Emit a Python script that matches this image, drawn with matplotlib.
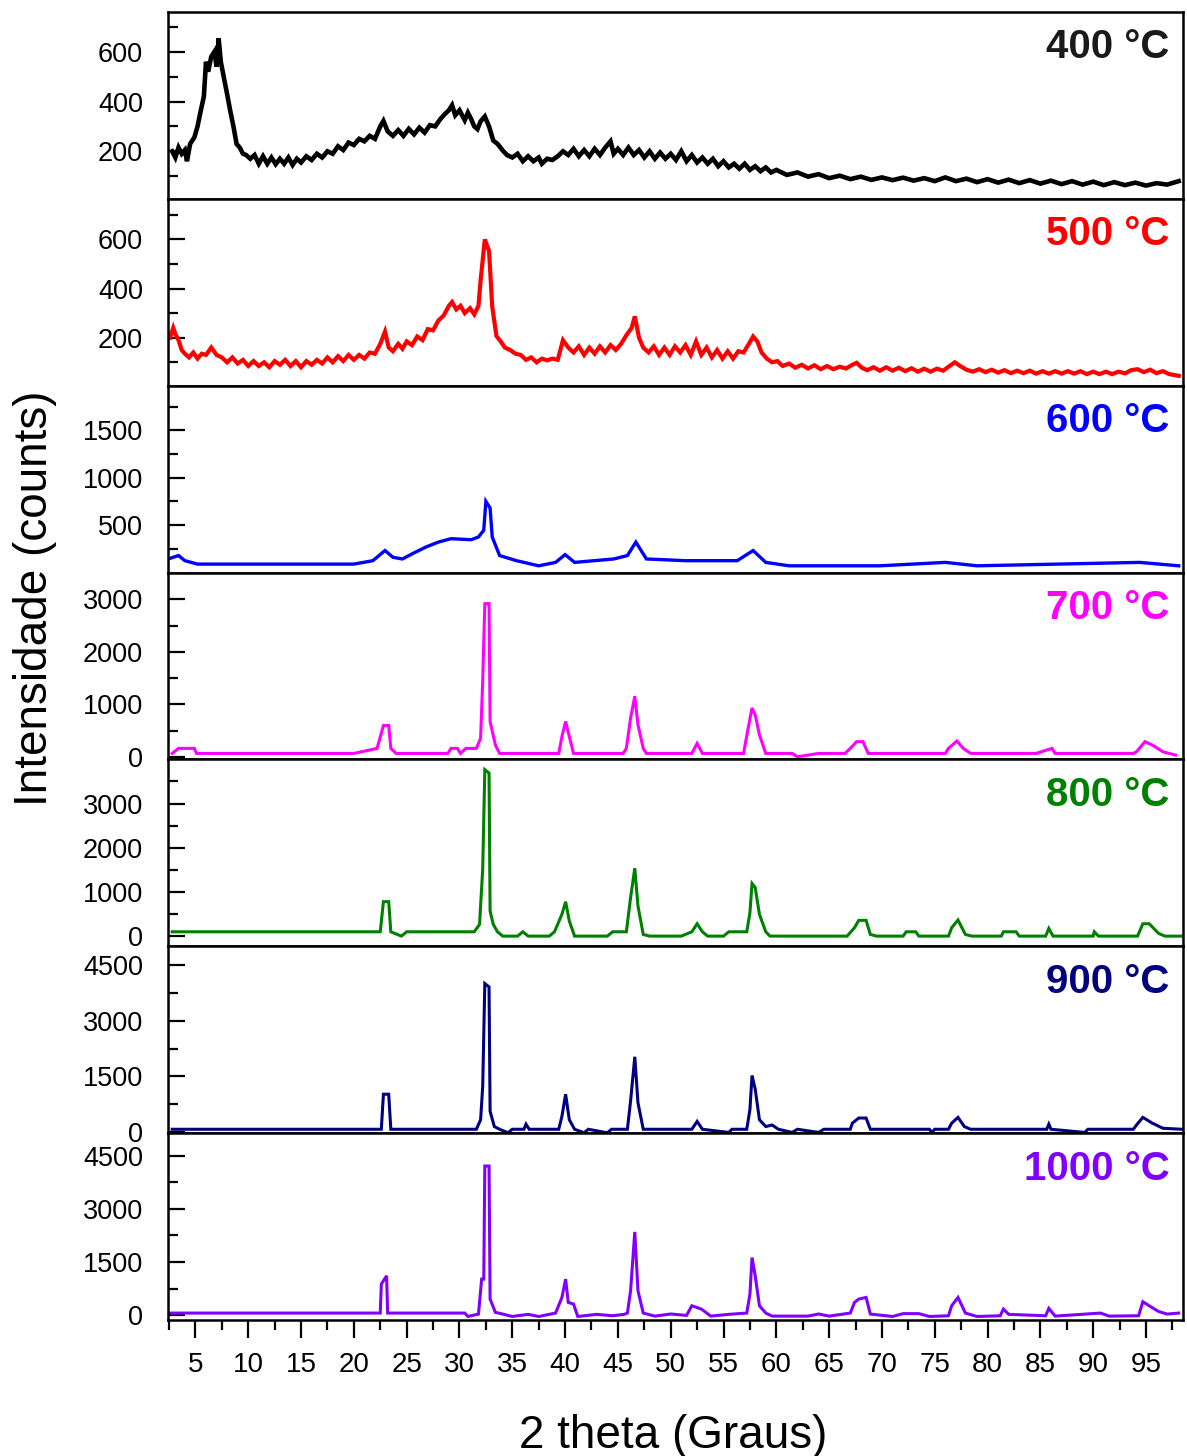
import matplotlib
matplotlib.use("Agg")
import matplotlib.pyplot as plt
from matplotlib.ticker import FixedLocator

plt.rcParams['font.family'] = ['Liberation Sans', 'DejaVu Sans']

# 2 theta / intensity readings per calcination temperature
tt_400 = [2.8, 3.1, 3.4, 3.7, 4.0, 4.2, 4.5, 4.9, 5.2, 5.5, 5.8, 6.0, 6.2, 6.5, 6.8, 7.0, 7.2, 7.4,
          7.7, 8.0, 8.3, 8.6, 8.9, 9.2, 9.5, 9.8, 10.2, 10.6, 11.0, 11.4, 11.8, 12.2, 12.6, 13.0,
          13.4, 13.8, 14.2, 14.6, 15.0, 15.5, 16.0, 16.5, 17.0, 17.5, 18.0, 18.5, 19.0, 19.5, 20.0,
          20.5, 21.0, 21.5, 22.0, 22.5, 22.8, 23.2, 23.7, 24.2, 24.7, 25.2, 25.7, 26.2, 26.7, 27.2,
          27.7, 28.2, 28.6, 29.0, 29.3, 29.6, 30.0, 30.5, 30.8, 31.1, 31.4, 31.7, 32.0, 32.4, 32.8,
          33.2, 33.6, 34.1, 34.5, 35.0, 35.5, 36.0, 36.5, 37.0, 37.5, 37.8, 38.3, 38.8, 39.3, 39.8,
          40.3, 40.8, 41.3, 41.8, 42.3, 42.8, 43.3, 43.8, 44.3, 44.6, 45.0, 45.5, 46.0, 46.5, 47.0,
          47.5, 48.0, 48.5, 49.0, 49.5, 50.0, 50.5, 51.0, 51.5, 52.0, 52.5, 53.0, 53.5, 54.0, 54.5,
          55.0, 55.5, 56.0, 56.5, 57.0, 57.5, 58.0, 58.5, 59.0, 59.5, 60.0, 61.0, 62.0, 63.0, 64.0,
          65.0, 66.0, 67.0, 68.0, 69.0, 70.0, 71.0, 72.0, 73.0, 74.0, 75.0, 76.0, 77.0, 78.0, 79.0,
          80.0, 81.0, 82.0, 83.0, 84.0, 85.0, 86.0, 87.0, 88.0, 89.0, 90.0, 91.0, 92.0, 93.0, 94.0,
          95.0, 96.0, 97.0, 98.1]
I_400 = [200, 175, 215, 190, 205, 160, 230, 256, 300, 362, 420, 560, 520, 580, 600, 540, 654, 560,
         495, 430, 362, 300, 229, 215, 190, 185, 170, 185, 150, 180, 150, 175, 148, 170,
         150, 175, 145, 170, 155, 180, 165, 190, 175, 200, 190, 220, 205, 235, 225,
         250, 240, 262, 250, 300, 322, 280, 262, 285, 262, 290, 268, 295, 275, 305,
         300, 330, 349, 365, 385, 345, 365, 325, 355, 330, 300, 289, 320, 340, 300,
         243, 230, 203, 185, 175, 190, 160, 180, 160, 175, 150, 170, 165, 180, 200,
         185, 210, 180, 205, 180, 210, 185, 215, 240, 190, 210, 185, 215, 185, 205,
         175, 200, 170, 195, 170, 190, 165, 200, 160, 185, 155, 175, 150, 170, 140,
         160, 135, 150, 130, 150, 125, 140, 120, 135, 115, 125, 105, 115, 98, 108,
         92, 102, 88, 98, 85, 95, 84, 94, 82, 92, 80, 95, 80, 90, 76,
         88, 74, 86, 72, 84, 70, 82, 68, 80, 66, 78, 64, 76, 64, 74,
         62, 72, 66, 80]

tt_500 = [2.6, 2.9, 3.1, 3.4, 3.7, 4.0, 4.4, 4.8, 5.2, 5.6, 6.0, 6.5, 7.0, 7.5, 8.0, 8.5, 9.0, 9.5,
          10.0, 10.5, 11.0, 11.5, 12.0, 12.5, 13.0, 13.5, 14.0, 14.5, 15.0, 15.5, 16.0, 16.5, 17.0,
          17.5, 18.0, 18.5, 19.0, 19.5, 20.0, 20.5, 21.0, 21.5, 22.0, 22.5, 22.95, 23.3, 23.7, 24.2,
          24.6, 25.0, 25.5, 26.0, 26.5, 27.0, 27.5, 28.0, 28.5, 29.0, 29.3, 29.7, 30.1, 30.5, 31.0,
          31.4, 31.8, 32.0, 32.4, 32.8, 33.1, 33.5, 33.9, 34.3, 34.8, 35.3, 35.8, 36.3, 36.8, 37.3,
          37.8, 38.3, 38.8, 39.3, 39.8, 40.3, 40.8, 41.3, 41.8, 42.3, 42.8, 43.3, 43.8, 44.3, 44.8,
          45.3, 45.8, 46.3, 46.6, 47.0, 47.4, 47.9, 48.4, 48.9, 49.4, 49.9, 50.4, 50.9, 51.4, 51.9,
          52.4, 52.9, 53.4, 53.9, 54.4, 54.9, 55.4, 55.9, 56.4, 56.9, 57.4, 57.8, 58.2, 58.6, 59.1,
          59.6, 60.1, 60.6, 61.2, 61.8, 62.4, 63.0, 63.6, 64.2, 64.8, 65.4, 66.0, 66.6, 67.2, 67.6,
          68.1, 68.6, 69.2, 69.8, 70.4, 71.0, 71.6, 72.2, 72.8, 73.4, 74.0, 74.6, 75.2, 75.8, 76.4,
          76.9, 77.4, 78.0, 78.6, 79.2, 79.8, 80.4, 81.0, 81.6, 82.2, 82.8, 83.4, 84.0, 84.6, 85.2,
          85.8, 86.4, 87.0, 87.6, 88.2, 88.8, 89.4, 90.0, 90.6, 91.2, 91.8, 92.4, 93.0, 93.6, 94.2,
          94.8, 95.4, 96.0, 96.6, 97.2, 98.1]
I_500 = [200, 240, 215, 190, 150, 135, 120, 140, 115, 135, 130, 160, 130, 120, 100, 120, 95, 110,
         85, 105, 85, 100, 80, 105, 90, 110, 85, 105, 80, 105, 90, 110, 95,
         120, 100, 125, 105, 130, 110, 130, 115, 140, 135, 175, 225, 160, 145, 175,
         155, 185, 170, 205, 190, 235, 230, 270, 290, 330, 345, 315, 330, 300, 320,
         295, 330, 433, 600, 553, 327, 207, 185, 160, 150, 135, 130, 110, 120, 100,
         115, 108, 115, 110, 190, 160, 140, 165, 130, 160, 135, 165, 140, 170, 150,
         175, 210, 240, 287, 200, 160, 140, 165, 130, 160, 130, 165, 140, 170, 130,
         185, 130, 160, 120, 150, 115, 145, 115, 145, 140, 175, 205, 185, 140, 115,
         100, 105, 85, 95, 78, 90, 75, 88, 72, 85, 72, 82, 75, 90, 98,
         78, 68, 80, 66, 80, 66, 78, 64, 76, 62, 74, 62, 74, 66, 85,
         100, 85, 70, 62, 72, 60, 70, 58, 68, 56, 66, 56, 66, 54, 64,
         54, 64, 54, 64, 54, 64, 52, 62, 52, 62, 52, 62, 55, 68, 72,
         60, 70, 56, 64, 52, 45]

tt_600 = [2.6, 3.4, 4.0, 5.2, 10.0, 15.0, 20.0, 21.8, 22.95, 23.7, 24.6, 25.5, 26.8, 28.0, 29.2,
          31.1, 31.8, 32.3, 32.5, 32.9, 33.1, 33.8, 35.4, 37.5, 39.1, 40.0, 40.9, 44.6, 45.9, 46.7,
          47.7, 51.4, 56.3, 57.8, 59.0, 61.2, 69.8, 76.0, 79.0, 94.4, 98.1]
I_600 = [150, 179, 125, 89, 89, 89, 89, 125, 232, 161, 143, 196, 268, 321, 357,
         346, 375, 446, 750, 679, 375, 179, 125, 71, 107, 189, 107, 143, 179, 321,
         143, 125, 125, 232, 107, 71, 71, 107, 71, 107, 71]

tt_700 = [2.8, 3.4, 4.9, 5.1, 20.0, 22.2, 22.8, 23.3, 23.5, 24.0, 28.9, 29.2, 29.8, 30.1, 30.6,
          31.6, 32.0, 32.2, 32.4, 32.8, 32.9, 33.4, 33.8, 39.4, 39.7, 40.05, 40.4, 40.8, 45.5, 45.8,
          46.2, 46.6, 46.9, 47.4, 47.7, 52.0, 52.5, 53.0, 56.9, 57.3, 57.7, 58.0, 58.4, 59.0, 61.5,
          62.0, 64.0, 66.5, 67.0, 67.6, 68.2, 68.7, 72.0, 76.0, 76.3, 77.1, 77.7, 78.4, 84.6, 86.1,
          86.4, 93.8, 94.1, 94.9, 95.6, 96.6, 97.8]
I_700 = [64, 160, 160, 64, 64, 160, 596, 596, 160, 64, 64, 160, 160, 64, 160,
         160, 353, 1442, 2917, 2917, 673, 224, 64, 64, 385, 673, 385, 64, 64, 160,
         737, 1154, 609, 160, 64, 64, 256, 64, 64, 513, 929, 801, 417, 64, 64,
         0, 64, 64, 160, 288, 288, 64, 64, 64, 160, 301, 160, 64, 64, 160,
         64, 64, 96, 288, 224, 96, 32]

tt_800 = [2.8, 22.5, 22.8, 23.3, 23.5, 24.5, 25.0, 31.4, 31.9, 32.2, 32.4, 32.8, 32.9, 33.2, 33.6,
          34.1, 35.5, 36.0, 36.5, 38.5, 39.0, 39.7, 40.05, 40.4, 40.9, 44.0, 44.5, 45.8, 46.2, 46.6,
          46.9, 47.4, 48.0, 51.0, 52.0, 52.5, 53.0, 53.5, 55.0, 55.5, 57.2, 57.5, 57.7, 58.0, 58.4,
          59.0, 59.4, 66.7, 67.4, 67.8, 68.5, 68.9, 69.5, 72.0, 72.3, 73.2, 73.5, 76.3, 76.6, 77.2,
          77.9, 78.5, 81.3, 81.5, 82.7, 83.0, 85.5, 85.8, 86.2, 90.0, 90.1, 90.5, 94.2, 94.7, 95.3,
          96.2, 96.8, 98.4]
I_800 = [98, 98, 780, 780, 98, 0, 98, 98, 265, 1516, 3767, 3690, 568, 265, 98,
         0, 0, 98, 0, 0, 98, 493, 780, 341, 0, 0, 98, 98, 871, 1538,
         682, 38, 0, 0, 98, 280, 98, 0, 0, 98, 98, 530, 1190, 1099, 493,
         98, 0, 0, 190, 356, 356, 38, 0, 0, 98, 98, 0, 0, 190, 364,
         38, 0, 0, 98, 98, 0, 0, 174, 0, 0, 98, 0, 0, 280, 280,
         60, 0, 0]

tt_900 = [2.8, 22.6, 22.8, 23.3, 23.5, 31.6, 32.0, 32.2, 32.4, 32.8, 32.9, 33.3, 33.8, 34.6, 35.0,
          36.1, 36.3, 36.6, 39.4, 39.7, 40.05, 40.4, 40.9, 41.8, 42.2, 44.0, 44.4, 45.9, 46.2, 46.6,
          46.9, 47.4, 52.0, 52.5, 53.0, 55.5, 55.8, 57.2, 57.5, 57.7, 58.0, 58.4, 59.0, 59.6, 60.2,
          61.5, 62.0, 64.0, 64.5, 67.0, 67.2, 67.8, 68.5, 68.9, 74.5, 74.7, 75.0, 76.3, 76.6, 77.2,
          77.8, 78.4, 85.6, 85.8, 86.0, 89.2, 89.5, 93.8, 94.1, 94.7, 95.6, 96.6, 98.4]
I_900 = [65, 65, 1014, 1014, 65, 65, 323, 1217, 4011, 3919, 553, 138, 65, -30, 65,
         65, 203, 65, 65, 415, 1014, 323, 65, -30, 65, -30, 65, 65, 830, 2028,
         784, 65, 65, 277, 65, -20, 65, 65, 599, 1521, 1153, 323, 138, 180, 65,
         -20, 65, -20, 65, 65, 230, 369, 369, 65, 65, -20, 65, 65, 230, 387,
         138, 65, 65, 203, 65, -20, 65, 65, 180, 387, 230, 92, 65]

tt_1000 = [2.6, 22.5, 22.6, 23.1, 23.2, 30.5, 30.8, 31.8, 32.1, 32.3, 32.4, 32.8, 32.9, 33.4, 34.1,
           35.0, 36.5, 37.5, 39.1, 39.7, 40.05, 40.3, 40.8, 41.2, 43.0, 44.5, 45.6, 45.9, 46.2, 46.6,
           46.9, 47.4, 48.5, 50.0, 51.5, 52.0, 52.9, 53.8, 55.5, 57.2, 57.5, 57.7, 58.0, 58.4, 59.0,
           59.6, 63.0, 64.0, 65.0, 67.0, 67.4, 67.8, 68.5, 68.9, 71.0, 72.0, 73.5, 74.5, 76.3, 76.6,
           77.2, 77.9, 79.0, 81.2, 81.5, 82.0, 85.5, 85.8, 86.4, 90.7, 91.5, 94.3, 94.7, 95.3, 96.2,
           97.0, 98.1]
I_1000 = [56, 56, 874, 1109, 56, 56, -40, 28, 1015, 1015, 4211, 4211, 451, 75, 28,
          -40, 20, -40, 56, 498, 1015, 357, 310, -40, 20, -20, 20, 56, 686, 2350,
          686, 56, -30, 30, -10, 263, 169, -30, 20, 56, 592, 1626, 1109, 263, 56,
          -30, -30, 30, -30, 56, 357, 451, 498, 28, -40, 40, 40, -40, -20, 263,
          498, 56, -40, -20, 169, 20, -20, 188, -30, 56, -30, -20, 376, 263, 100,
          28, 56]

labels = ["400 °C", "500 °C", "600 °C", "700 °C", "800 °C", "900 °C", "1000 °C"]
series = [(tt_400, I_400), (tt_500, I_500), (tt_600, I_600), (tt_700, I_700),
          (tt_800, I_800), (tt_900, I_900), (tt_1000, I_1000)]
colors = ["black", "#ff0000", "#0000ff", "#ff00ff", "#008000", "#000080", "#8000ff"]
label_colors = ["#1a1a1a", "#ff0000", "#0000ff", "#ff00ff", "#008000", "#000080", "#8000ff"]
widths = [3.3, 3.0, 2.4, 2.2, 2.2, 2.2, 2.2]

ylims = [(9, 760), (5, 765), (0, 1970), (-50, 3510), (-230, 4000), (-40, 5020), (-140, 5140)]
major = [[200, 400, 600], [200, 400, 600], [500, 1000, 1500], [0, 1000, 2000, 3000],
         [0, 1000, 2000, 3000], [0, 1500, 3000, 4500], [0, 1500, 3000, 4500]]
minor = [[100, 300, 500, 700], [100, 300, 500, 700], [250, 750, 1250, 1750], [500, 1500, 2500],
         [500, 1500, 2500, 3500], [750, 2250, 3750], [750, 2250, 3750]]

fig, axes = plt.subplots(7, 1, sharex=True, figsize=(11.87, 14.56), dpi=100)
fig.subplots_adjust(left=0.1415, right=0.9966, top=0.9918, bottom=0.0934, hspace=0)

for i, ax in enumerate(axes):
    x, y = series[i]
    ax.plot(x, y, color=colors[i], lw=widths[i], solid_joinstyle='miter')
    ax.set_ylim(*ylims[i])
    ax.yaxis.set_major_locator(FixedLocator(major[i]))
    ax.yaxis.set_minor_locator(FixedLocator(minor[i]))
    ax.tick_params(axis='y', which='major', direction='in', length=12, width=1.6,
                   labelsize=19.5, pad=18)
    ax.tick_params(axis='y', which='minor', direction='in', length=7, width=1.6)
    ax.tick_params(axis='x', which='both', bottom=False, top=False)
    for s in ax.spines.values():
        s.set_linewidth(1.8)
    ax.text(0.987, 0.81, labels[i], transform=ax.transAxes, ha='right', va='center',
            fontsize=29, fontweight='bold', color=label_colors[i])

bottom = axes[-1]
bottom.set_xlim(2.4, 98.5)
bottom.set_xticks(list(range(5, 100, 5)))
bottom.set_xticks([2.5 + 5 * k for k in range(20)], minor=True)
bottom.tick_params(axis='x', which='major', bottom=True, direction='out', length=13,
                   width=1.6, labelsize=20, pad=10)
bottom.tick_params(axis='x', which='minor', bottom=True, direction='out', length=7, width=1.6)

fig.text(0.0295, 0.589, "Intensidade (counts)", rotation=90, ha='center', va='center',
         fontsize=33)
fig.text(0.567, 0.0135, "2 theta (Graus)", ha='center', va='center', fontsize=33)

fig.savefig("out.png", dpi=100)
